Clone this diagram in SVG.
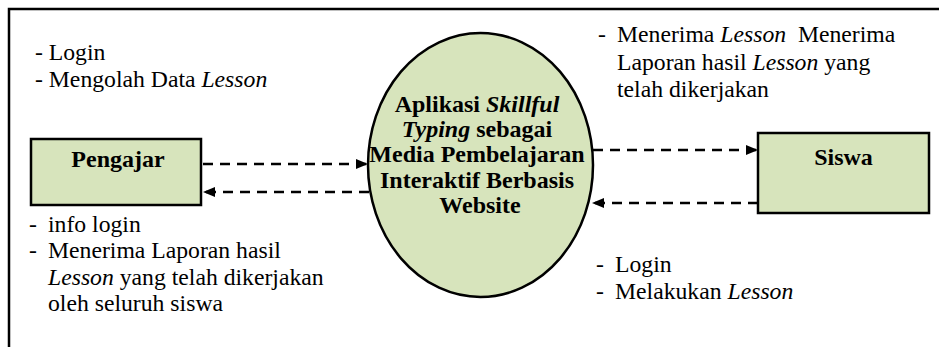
<svg xmlns="http://www.w3.org/2000/svg" width="939" height="347" viewBox="0 0 939 347">
<style>
.t{font-family:"Liberation Serif",serif;font-size:20px;fill:#000;white-space:pre}
.b{font-family:"Liberation Serif",serif;font-weight:bold;font-size:20px;fill:#000}
.i{font-style:italic}
.node{fill:#D7E4BC;stroke:#000;stroke-width:2.5}
.flow{stroke:#000;stroke-width:2.5;stroke-dasharray:10 7;fill:none}
</style>
<defs>
<marker id="ah" markerWidth="12" markerHeight="10" refX="12" refY="5" orient="auto" markerUnits="userSpaceOnUse">
<path d="M0,0 L12,5 L0,10 Z" fill="#000"/>
</marker>
</defs>
<rect width="939" height="347" fill="#fff"/>
<path d="M9,347 L9,9 L939,9" fill="none" stroke="#000" stroke-width="2.5"/>

<g id="connectors">
<line class="flow" x1="203" y1="164" x2="368" y2="164" marker-end="url(#ah)"/>
<line class="flow" x1="369" y1="192" x2="203" y2="192" marker-end="url(#ah)"/>
<line class="flow" x1="593" y1="150" x2="758" y2="150" marker-end="url(#ah)"/>
<line class="flow" x1="758" y1="203" x2="592" y2="203" marker-end="url(#ah)"/>
</g>

<g id="pengajar">
<rect class="node" x="31" y="139" width="170" height="66"/>
<text class="b" transform="translate(118,167) scale(1.2)" text-anchor="middle">Pengajar</text>
</g>

<g id="sistem">
<ellipse class="node" cx="480.5" cy="165" rx="112.5" ry="132" stroke-width="2.2"/>
<text class="b" transform="translate(480,112) scale(1.2)" text-anchor="middle">
<tspan x="0" y="0">Aplikasi <tspan class="i">Skillful</tspan></tspan>
<tspan x="0" y="20.8"><tspan class="i">Typing</tspan> sebagai</tspan>
<tspan x="0" y="41.7">Media Pembelajaran</tspan>
<tspan x="0" y="63.3">Interaktif Berbasis</tspan>
<tspan x="0" y="84.2">Website</tspan>
</text>
</g>

<g id="siswa">
<rect class="node" x="758" y="133" width="171" height="80"/>
<text class="b" transform="translate(843.5,165) scale(1.2)" text-anchor="middle">Siswa</text>
</g>

<g id="label-pengajar-in">
<text class="t" transform="translate(35,60) scale(1.185)">- Login</text>
<text class="t" transform="translate(35,87) scale(1.185)">- Mengolah Data <tspan class="i">Lesson</tspan></text>
</g>

<g id="label-pengajar-out">
<text class="t" transform="translate(29,232) scale(1.185)">-</text>
<text class="t" transform="translate(48,232) scale(1.185)">info login</text>
<text class="t" transform="translate(29,258) scale(1.185)">-</text>
<text class="t" transform="translate(48,258) scale(1.185)">Menerima Laporan hasil</text>
<text class="t" transform="translate(48,285) scale(1.185)"><tspan class="i">Lesson</tspan> yang telah dikerjakan</text>
<text class="t" transform="translate(48,311) scale(1.185)">oleh seluruh siswa</text>
</g>

<g id="label-siswa-out">
<text class="t" transform="translate(598,42) scale(1.185)">-</text>
<text class="t" transform="translate(617,42) scale(1.185)">Menerima <tspan class="i">Lesson</tspan>  Menerima</text>
<text class="t" transform="translate(617,70) scale(1.185)">Laporan hasil <tspan class="i">Lesson</tspan> yang</text>
<text class="t" transform="translate(617,97) scale(1.185)">telah dikerjakan</text>
</g>

<g id="label-siswa-in">
<text class="t" transform="translate(596,272) scale(1.185)">-</text>
<text class="t" transform="translate(615,272) scale(1.185)">Login</text>
<text class="t" transform="translate(596,299) scale(1.185)">-</text>
<text class="t" transform="translate(615,299) scale(1.185)">Melakukan <tspan class="i">Lesson</tspan></text>
</g>
</svg>
